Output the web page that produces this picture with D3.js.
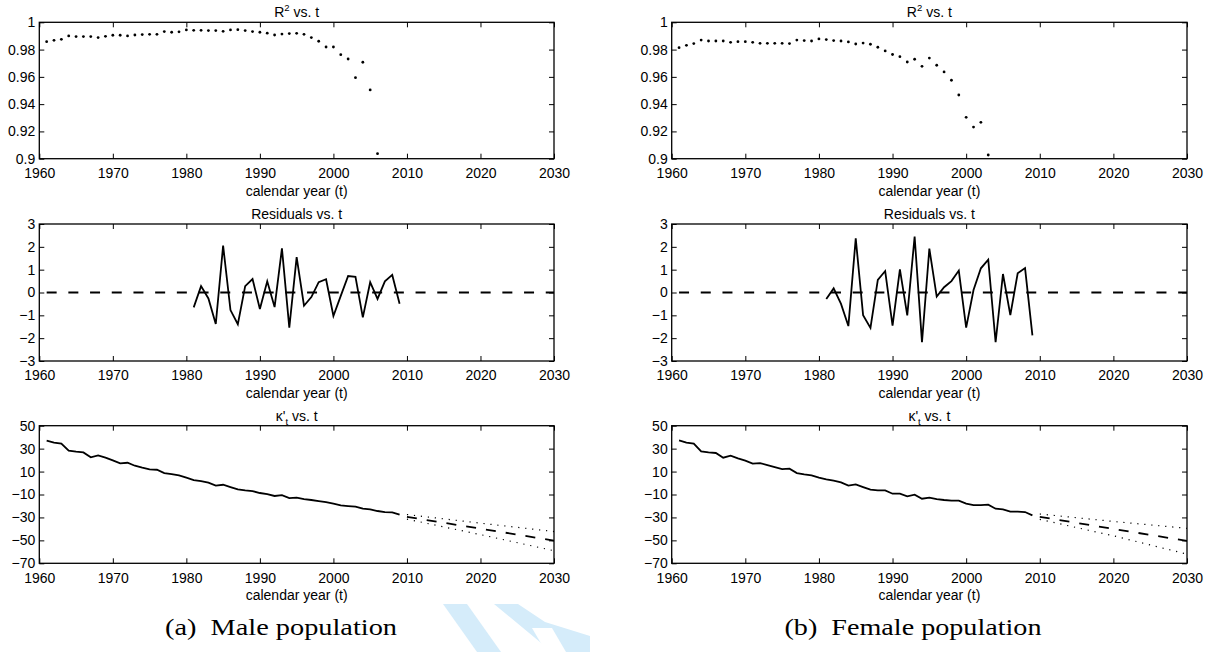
<!DOCTYPE html>
<html>
<head>
<meta charset="utf-8">
<script src="https://cdn.jsdelivr.net/npm/d3@7.9.0/dist/d3.min.js"></script>
<style>
  body { margin: 0; background: white; }
  svg { display: block; }
</style>
</head>
<body>
<div id="chart"></div>
<script>
// ---- data ----
const xTicks = [1960, 1970, 1980, 1990, 2000, 2010, 2020, 2030];

const r2Ticks = [0.9, 0.92, 0.94, 0.96, 0.98, 1];
const r2TickLabels = ["0.9", "0.92", "0.94", "0.96", "0.98", "1"];
const resTicks = [-3, -2, -1, 0, 1, 2, 3];
const resTickLabels = ["\u22123", "\u22122", "\u22121", "0", "1", "2", "3"];
const kappaTicks = [-70, -50, -30, -10, 10, 30, 50];
const kappaTickLabels = ["\u221270", "\u221250", "\u221230", "\u221210", "10", "30", "50"];

// R^2 by year (male from 1961, female from 1961)
const r2MaleStart = 1961;
const r2Male = [
  0.9858, 0.9868, 0.9875, 0.9900, 0.9895, 0.9895, 0.9895, 0.9888, 0.9897, 0.9905,
  0.9905, 0.9900, 0.9907, 0.9910, 0.9912, 0.9912, 0.9932, 0.9927, 0.9930, 0.9944,
  0.9941, 0.9941, 0.9939, 0.9939, 0.9934, 0.9944, 0.9946, 0.9939, 0.9932, 0.9927,
  0.9920, 0.9907, 0.9914, 0.9917, 0.9919, 0.9912, 0.9888, 0.9861, 0.9819, 0.9819,
  0.9763, 0.9731, 0.9594, 0.9707, 0.9504, 0.9037
];
const r2FemaleStart = 1961;
const r2Female = [
  0.9814, 0.9831, 0.9844, 0.9870, 0.9863, 0.9863, 0.9863, 0.9853, 0.9858, 0.9858,
  0.9853, 0.9846, 0.9846, 0.9846, 0.9846, 0.9844, 0.9870, 0.9866, 0.9863, 0.9878,
  0.9873, 0.9866, 0.9863, 0.9856, 0.9841, 0.9848, 0.9839, 0.9817, 0.9790, 0.9764,
  0.9748, 0.9709, 0.9729, 0.9677, 0.9738, 0.9685, 0.9636, 0.9575, 0.9467, 0.9303,
  0.9232, 0.9267, 0.9027
];

// residuals, 1981-2009
const resStart = 1981;
const resMale = [
  -0.65, 0.28, -0.26, -1.38, 2.05, -0.77, -1.39, 0.28, 0.59, -0.72,
  0.49, -0.64, 1.93, -1.54, 1.55, -0.58, -0.20, 0.45, 0.58, -1.03,
  -0.15, 0.72, 0.69, -1.09, 0.45, -0.28, 0.49, 0.77, -0.49
];
const resFemale = [
  -0.28, 0.18, -0.50, -1.47, 2.37, -0.99, -1.55, 0.55, 0.94, -1.45,
  1.01, -1.00, 2.45, -2.18, 1.92, -0.18, 0.23, 0.50, 0.96, -1.54,
  0.11, 1.06, 1.44, -2.18, 0.81, -0.99, 0.84, 1.07, -1.88
];
const zeroLineYears = [1961, 2030];

// kappa'_t, 1961-2009
const kappaStart = 1961;
const kappaMale = [
  36.9, 35.2, 34.3, 28.2, 27.3, 26.7, 22.4, 24.1, 22.1, 19.8,
  17.2, 17.7, 15.1, 13.4, 11.9, 11.6, 8.7, 7.8, 6.7, 4.7,
  2.6, 1.7, 0.3, -2.3, -1.5, -3.5, -5.5, -6.4, -7.0, -8.7,
  -9.6, -11.3, -10.5, -13.1, -12.8, -14.0, -14.8, -15.7, -16.6, -18.0,
  -19.5, -20.1, -20.6, -22.4, -23.0, -24.4, -25.3, -25.6, -27.6
];
const kappaFemale = [
  37.2, 35.2, 34.3, 27.6, 26.7, 26.2, 22.1, 23.8, 21.5, 19.5,
  16.9, 17.4, 15.7, 13.9, 12.2, 12.5, 8.7, 7.6, 6.7, 4.7,
  3.2, 2.0, 0.6, -2.3, -1.2, -3.5, -5.8, -6.4, -6.4, -9.3,
  -9.3, -11.6, -10.2, -13.7, -12.8, -14.0, -14.8, -15.4, -15.4, -18.0,
  -19.2, -19.2, -18.9, -22.4, -23.0, -25.0, -25.0, -25.3, -28.2
];

// forecasts
const fcYears = [2010, 2020, 2030];
const fcMaleMean = [-29.5, -39.8, -50.2];
const fcMaleUpper = [-27.5, -35.0, -42.3];
const fcMaleLower = [-31.5, -45.0, -59.0];
const fcFemaleMean = [-29.5, -40.0, -50.5];
const fcFemaleUpper = [-27.0, -33.5, -39.5];
const fcFemaleLower = [-31.7, -46.0, -62.0];

const captions = ["(a)\u00a0\u00a0Male population", "(b)\u00a0\u00a0Female population"];

// ---- layout ----
const width = 1210, height = 652;
const cols = [{ left: 39.3, right: 554 }, { left: 671.7, right: 1187 }];
const rows = [{ top: 22.3, bottom: 158.7 }, { top: 224, bottom: 361 }, { top: 425.7, bottom: 563.3 }];
const font = "'Liberation Sans', Arial, Helvetica, sans-serif";
const fs = 14;

const svg = d3.select("#chart").append("svg")
  .attr("width", width).attr("height", height)
  .attr("viewBox", `0 0 ${width} ${height}`)
  .style("background", "white");

// faint watermark in the bottom middle
const wm = svg.append("g").attr("fill", "#d5ecfa");
wm.append("polygon").attr("points", "443,604 467,604 501,652 477,652");
wm.append("polygon").attr("points", "494,604 518,604 545,622 590,636 590,652 552,652");
svg.append("polygon").attr("fill", "white").attr("points", "532,628 552,628 566,652 546,652");

const seriesFor = (start, vals) => vals.map((v, i) => ({ year: start + i, v }));
const zipYears = (years, vals) => years.map((y, i) => ({ year: y, v: vals[i] }));

function drawPanel(col, row, cfg) {
  const c = cols[col], r = rows[row];
  const x = d3.scaleLinear().domain([1960, 2030]).range([c.left, c.right]);
  const y = d3.scaleLinear().domain(cfg.domain).range([r.bottom, r.top]);
  const g = svg.append("g");

  const clipId = `clip-${col}-${row}`;
  g.append("clipPath").attr("id", clipId).append("rect")
    .attr("x", c.left).attr("y", r.top)
    .attr("width", c.right - c.left).attr("height", r.bottom - r.top);
  const plot = g.append("g").attr("clip-path", `url(#${clipId})`);

  cfg.draw(plot, x, y);

  // axes, MATLAB style: ticks inward on all four sides
  const styleAxis = (sel) => {
    sel.select(".domain").remove();
    sel.selectAll(".tick line").attr("stroke", "#000").attr("stroke-width", 1);
    sel.selectAll("text").attr("fill", "#000").style("font-family", font).style("font-size", fs + "px");
  };
  g.append("g").attr("transform", `translate(0,${r.bottom})`)
    .call(d3.axisBottom(x).tickValues(xTicks).tickFormat(d3.format("d")).tickSizeInner(-5).tickSizeOuter(0).tickPadding(9.5))
    .call(styleAxis);
  g.append("g").attr("transform", `translate(0,${r.top})`)
    .call(d3.axisTop(x).tickValues(xTicks).tickFormat("").tickSizeInner(-5).tickSizeOuter(0))
    .call(styleAxis);
  g.append("g").attr("transform", `translate(${c.left},0)`)
    .call(d3.axisLeft(y).tickValues(cfg.ticks).tickFormat((d, i) => cfg.labels[i]).tickSizeInner(-5).tickSizeOuter(0).tickPadding(4))
    .call(styleAxis);
  g.append("g").attr("transform", `translate(${c.right},0)`)
    .call(d3.axisRight(y).tickValues(cfg.ticks).tickFormat("").tickSizeInner(-5).tickSizeOuter(0))
    .call(styleAxis);

  g.append("rect")
    .attr("x", c.left).attr("y", r.top)
    .attr("width", c.right - c.left).attr("height", r.bottom - r.top)
    .attr("fill", "none").attr("stroke", "#000").attr("stroke-width", 1.3);

  const cx = (c.left + c.right) / 2;
  g.append("text")
    .attr("x", cx).attr("y", r.bottom + 37)
    .attr("text-anchor", "middle")
    .style("font-family", font).style("font-size", fs + "px")
    .text("calendar year (t)");

  const title = g.append("text")
    .attr("x", cx).attr("y", r.top - 5)
    .attr("text-anchor", "middle")
    .style("font-family", font).style("font-size", fs + "px");
  cfg.title(title);
}

const r2Title = (t) => {
  t.append("tspan").text("R");
  t.append("tspan").attr("dy", -6).style("font-size", "9.5px").text("2");
  t.append("tspan").attr("dy", 6).text(" vs. t");
};
const resTitle = (t) => t.text("Residuals vs. t");
const kappaTitle = (t) => {
  t.append("tspan").text("\u03ba'");
  t.append("tspan").attr("dy", 4).style("font-size", "9.5px").text("t");
  t.append("tspan").attr("dy", -4).text(" vs. t");
};

const line = (x, y) => d3.line().x(d => x(d.year)).y(d => y(d.v));

function dotsPanel(start, vals) {
  return (plot, x, y) => {
    plot.selectAll("circle").data(seriesFor(start, vals)).join("circle")
      .attr("cx", d => x(d.year)).attr("cy", d => y(d.v))
      .attr("r", 1.4).attr("fill", "#000");
  };
}

function resPanel(vals) {
  return (plot, x, y) => {
    plot.append("path").datum(zeroLineYears.map(yr => ({ year: yr, v: 0 })))
      .attr("d", line(x, y)).attr("fill", "none")
      .attr("stroke", "#000").attr("stroke-width", 1.8).attr("stroke-dasharray", "10,11.7");
    plot.append("path").datum(seriesFor(resStart, vals))
      .attr("d", line(x, y)).attr("fill", "none")
      .attr("stroke", "#000").attr("stroke-width", 1.8).attr("stroke-linejoin", "miter");
  };
}

function kappaPanel(vals, mean, upper, lower) {
  return (plot, x, y) => {
    plot.append("path").datum(seriesFor(kappaStart, vals))
      .attr("d", line(x, y)).attr("fill", "none")
      .attr("stroke", "#000").attr("stroke-width", 1.8);
    plot.append("path").datum(zipYears(fcYears, mean))
      .attr("d", line(x, y)).attr("fill", "none")
      .attr("stroke", "#000").attr("stroke-width", 1.8).attr("stroke-dasharray", "10,10");
    [upper, lower].forEach(b => {
      plot.append("path").datum(zipYears(fcYears, b))
        .attr("d", line(x, y)).attr("fill", "none")
        .attr("stroke", "#000").attr("stroke-width", 1.2).attr("stroke-dasharray", "1.2,5.8");
    });
  };
}

// male column
drawPanel(0, 0, { domain: [0.9, 1], ticks: r2Ticks, labels: r2TickLabels, title: r2Title, draw: dotsPanel(r2MaleStart, r2Male) });
drawPanel(0, 1, { domain: [-3, 3], ticks: resTicks, labels: resTickLabels, title: resTitle, draw: resPanel(resMale) });
drawPanel(0, 2, { domain: [-70, 50], ticks: kappaTicks, labels: kappaTickLabels, title: kappaTitle, draw: kappaPanel(kappaMale, fcMaleMean, fcMaleUpper, fcMaleLower) });

// female column
drawPanel(1, 0, { domain: [0.9, 1], ticks: r2Ticks, labels: r2TickLabels, title: r2Title, draw: dotsPanel(r2FemaleStart, r2Female) });
drawPanel(1, 1, { domain: [-3, 3], ticks: resTicks, labels: resTickLabels, title: resTitle, draw: resPanel(resFemale) });
drawPanel(1, 2, { domain: [-70, 50], ticks: kappaTicks, labels: kappaTickLabels, title: kappaTitle, draw: kappaPanel(kappaFemale, fcFemaleMean, fcFemaleUpper, fcFemaleLower) });

// sub-figure captions
const captionX = [281, 913];
const captionW = [232, 257];
captions.forEach((txt, i) => {
  svg.append("text")
    .attr("x", captionX[i]).attr("y", 635)
    .attr("text-anchor", "middle")
    .attr("textLength", captionW[i]).attr("lengthAdjust", "spacingAndGlyphs")
    .style("font-family", "'Liberation Serif', 'DejaVu Serif', serif")
    .style("font-size", "23px")
    .text(txt);
});
</script>
</body>
</html>
